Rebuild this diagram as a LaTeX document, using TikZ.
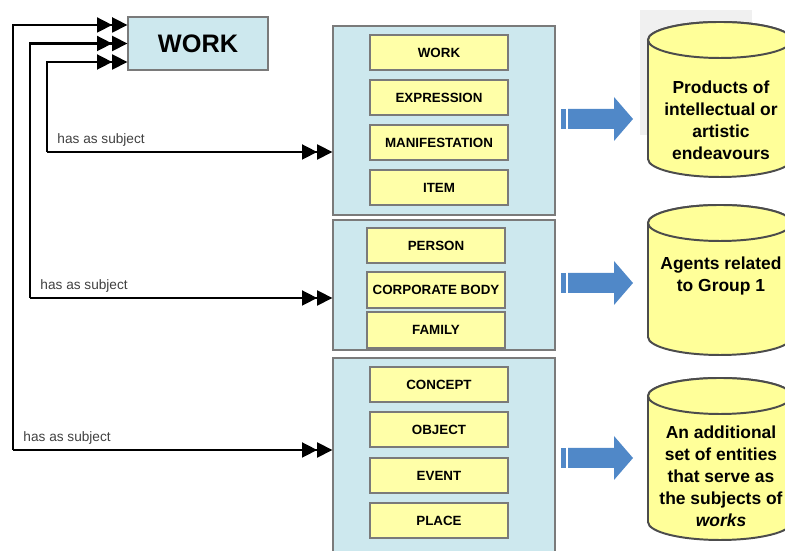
\documentclass[tikz,border=0pt]{standalone}
\usepackage{fontspec}
\setmainfont{Liberation Sans}
\usetikzlibrary{arrows.meta}
\definecolor{panelcyan}{HTML}{CDE8EE}
\definecolor{itemyellow}{HTML}{FFFFA8}
\definecolor{cylyellow}{HTML}{FFFF99}
\definecolor{arrowblue}{HTML}{5088C8}
\definecolor{edgegray}{HTML}{7A7A7A}
\definecolor{lblgray}{HTML}{404040}
\tikzset{
    rel/.style={line width=1.8pt, -{Triangle[length=0.38cm, width=0.37cm]Triangle[length=0.38cm, width=0.37cm]}},
    grp/.style={draw=edgegray, fill=panelcyan, line width=0.8pt, minimum width=5.55cm},
    item/.style={draw=edgegray, fill=itemyellow, line width=0.8pt, minimum width=3.45cm, minimum height=0.875cm, font=\fontsize{9.5}{11}\selectfont\bfseries},
    workbox/.style={draw=edgegray, fill=panelcyan, line width=0.8pt, minimum width=3.5cm, minimum height=1.325cm, font=\fontsize{18}{20}\selectfont\bfseries},
    lbl/.style={text=lblgray, inner sep=1pt, font=\fontsize{9.7}{11}\selectfont},
    cyl/.style={draw=black!70, fill=cylyellow, line width=1.4pt},
    cyltxt/.style={align=center, font=\fontsize{12.4}{15.6}\selectfont\bfseries},
    blockarrow/.style={fill=arrowblue, draw=none}
}
\begin{document}
\begin{tikzpicture}[x=0.025cm, y=0.025cm]
            \useasboundingbox (0, 0) rectangle (785, 551);
            % faint backdrop behind the first store
            \fill (640, 541) rectangle (752, 416) [black!6];
            % top entity
            \node[workbox] (work) at (198, 507.5) {WORK};
            % the three groups
            \node[grp, minimum height=4.725cm] (grp1) at (444, 430.5) {};
            \node[grp, minimum height=3.25cm] (grp2) at (444, 266) {};
            \node[grp, minimum height=4.875cm] (grp3) at (444, 95.5) {};
            \node[item] (wrk) at (439, 498.5) {WORK};
            \node[item] (expr) at (439, 453.5) {EXPRESSION};
            \node[item] (mani) at (439, 408.5) {MANIFESTATION};
            \node[item] (itm) at (439, 363.5) {ITEM};
            \node[item] (pers) at (436, 305.5) {PERSON};
            \node[item, minimum height=0.9cm] (corp) at (436, 261) {CORPORATE BODY};
            \node[item, minimum height=0.9cm] (fam) at (436, 221) {FAMILY};
            \node[item] (conc) at (439, 166.5) {CONCEPT};
            \node[item] (obj) at (439, 121.5) {OBJECT};
            \node[item] (evt) at (439, 75.5) {EVENT};
            \node[item] (plc) at (439, 30.5) {PLACE};
            % has as subject links
            \coordinate (s1) at (47, 399);
            \coordinate (s2) at (30, 253);
            \coordinate (s3) at (13, 101);
            \draw[rel] (s1) -- (s1 -| grp1.west);
            \draw[rel] (s2) -- (s2 -| grp2.west);
            \draw[rel] (s3) -- (s3 -| grp3.west);
            \draw[rel] (s1) |- ([yshift=-0.4625cm]work.west);
            \draw[rel] (s2) |- (work.west);
            \draw[rel] (s3) |- ([yshift=0.4625cm]work.west);
            \node[lbl, anchor=south west] (lbl1) at ([xshift=0.22cm, yshift=0.1cm]s1) {has as subject};
            \node[lbl, anchor=south west] (lbl2) at ([xshift=0.22cm, yshift=0.1cm]s2) {has as subject};
            \node[lbl, anchor=south west] (lbl3) at ([xshift=0.22cm, yshift=0.1cm]s3) {has as subject};
            % block arrows
            \fill[blockarrow] (561, 442) rectangle (566, 422);
            \fill[blockarrow] (568, 442) -- (614, 442) -- (614, 454) -- (633, 432) -- (614, 410) -- (614, 422) -- (568, 422) -- cycle;
            \fill[blockarrow] (561, 278) rectangle (566, 258);
            \fill[blockarrow] (568, 278) -- (614, 278) -- (614, 290) -- (633, 268) -- (614, 246) -- (614, 258) -- (568, 258) -- cycle;
            \fill[blockarrow] (561, 103) rectangle (566, 83);
            \fill[blockarrow] (568, 103) -- (614, 103) -- (614, 115) -- (633, 93) -- (614, 71) -- (614, 83) -- (568, 83) -- cycle;
            % stores
            \filldraw[cyl] (648, 511) -- (648, 392) arc[start angle=180, end angle=360, x radius=72, y radius=18] -- (792, 511) arc[start angle=0, end angle=180, x radius=72, y radius=18] -- cycle;
            \filldraw[cyl] (720, 511) ellipse[x radius=72, y radius=18];
            \filldraw[cyl] (648, 328) -- (648, 214) arc[start angle=180, end angle=360, x radius=72, y radius=18] -- (792, 328) arc[start angle=0, end angle=180, x radius=72, y radius=18] -- cycle;
            \filldraw[cyl] (720, 328) ellipse[x radius=72, y radius=18];
            \filldraw[cyl] (648, 155) -- (648, 29) arc[start angle=180, end angle=360, x radius=72, y radius=18] -- (792, 155) arc[start angle=0, end angle=180, x radius=72, y radius=18] -- cycle;
            \filldraw[cyl] (720, 155) ellipse[x radius=72, y radius=18];
            \node[cyltxt] (prod) at (721, 431) {Products of\\intellectual or\\artistic\\endeavours};
            \node[cyltxt] (agnt) at (721, 275) {Agents related\\to Group 1};
            \node[cyltxt] (subj) at (721, 75) {An additional\\set of entities\\that serve as\\the subjects of\\\textit{works}};
\end{tikzpicture}
\end{document}
